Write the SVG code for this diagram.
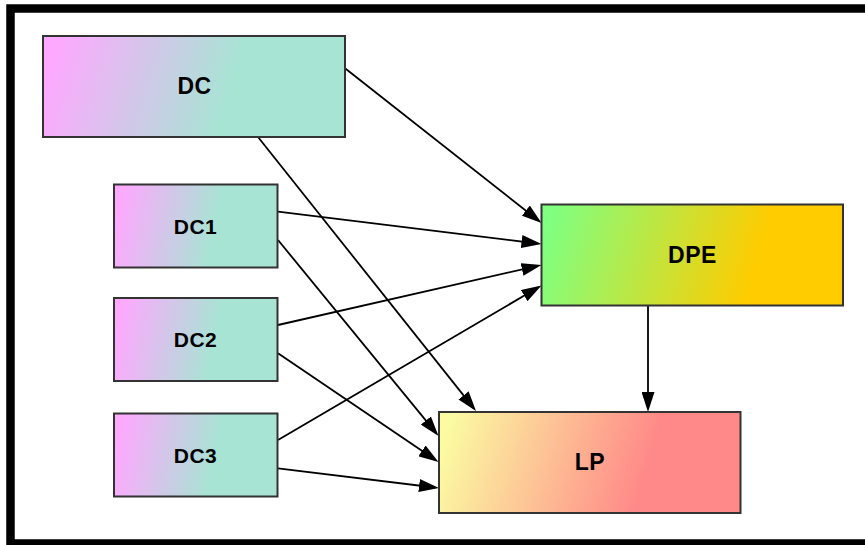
<svg xmlns="http://www.w3.org/2000/svg" width="865" height="545" viewBox="0 0 865 545">
  <defs>
    <linearGradient id="gradSource" x1="0" y1="0.45" x2="1" y2="0.55">
      <stop offset="0" stop-color="#ffa8ff"/>
      <stop offset="0.62" stop-color="#a8e4d4"/>
      <stop offset="1" stop-color="#a8e4d4"/>
    </linearGradient>
    <linearGradient id="gradDpe" x1="0" y1="0.45" x2="1" y2="0.55">
      <stop offset="0" stop-color="#80ff80"/>
      <stop offset="0.72" stop-color="#ffcc00"/>
      <stop offset="1" stop-color="#ffcc00"/>
    </linearGradient>
    <linearGradient id="gradLp" x1="0" y1="0.45" x2="1" y2="0.55">
      <stop offset="0" stop-color="#fbfba2"/>
      <stop offset="0.7" stop-color="#ff8888"/>
      <stop offset="1" stop-color="#ff8888"/>
    </linearGradient>
    <marker id="arrow" markerUnits="userSpaceOnUse" markerWidth="20" markerHeight="13" refX="16" refY="6.5" orient="auto">
      <path d="M0,0 L20,6.5 L0,13 Z" fill="#000"/>
    </marker>
  </defs>
  <style>
    .node rect { stroke: #333; stroke-width: 2; }
    .node text { font-family: "Liberation Sans", Arial, sans-serif; font-weight: bold; font-size: 23px; text-anchor: middle; fill: #000; letter-spacing: 0.5px; }
    .node text.small { font-size: 21px; }
    #edges line { stroke: #000; stroke-width: 1.8; marker-end: url(#arrow); }
  </style>

  <rect width="865" height="545" fill="#fff"/>
  <!-- outer frame -->
  <rect x="10.5" y="8.5" width="870" height="535" fill="none" stroke="#000" stroke-width="8.5"/>

  <g id="edges">
    <line x1="345" y1="68.3" x2="538.4" y2="220.5"/>
    <line x1="258" y1="137" x2="473.5" y2="407.9"/>
    <line x1="278" y1="211.7" x2="537.5" y2="243.5"/>
    <line x1="278" y1="240" x2="436" y2="432.9"/>
    <line x1="278" y1="325" x2="537.6" y2="265.9"/>
    <line x1="278" y1="353.3" x2="435.2" y2="459.8"/>
    <line x1="278" y1="440" x2="538" y2="287.5"/>
    <line x1="278" y1="468.3" x2="435" y2="487.5"/>
    <line x1="648" y1="305" x2="648" y2="408"/>
  </g>

  <g id="node-dc" class="node">
    <rect x="43" y="36" width="302" height="101" fill="url(#gradSource)"/>
    <text x="194.5" y="94">DC</text>
  </g>
  <g id="node-dc1" class="node">
    <rect x="114" y="184.5" width="163.5" height="83" fill="url(#gradSource)"/>
    <text class="small" x="195.5" y="233.5">DC1</text>
  </g>
  <g id="node-dc2" class="node">
    <rect x="114" y="298" width="163.5" height="83" fill="url(#gradSource)"/>
    <text class="small" x="195.5" y="347">DC2</text>
  </g>
  <g id="node-dc3" class="node">
    <rect x="114" y="413.5" width="163.5" height="83" fill="url(#gradSource)"/>
    <text class="small" x="195.5" y="462.5">DC3</text>
  </g>
  <g id="node-dpe" class="node">
    <rect x="541.5" y="204.5" width="301.5" height="101" fill="url(#gradDpe)"/>
    <text x="692.5" y="262.5">DPE</text>
  </g>
  <g id="node-lp" class="node">
    <rect x="439" y="412" width="301.5" height="101" fill="url(#gradLp)"/>
    <text x="590" y="470">LP</text>
  </g>
</svg>
